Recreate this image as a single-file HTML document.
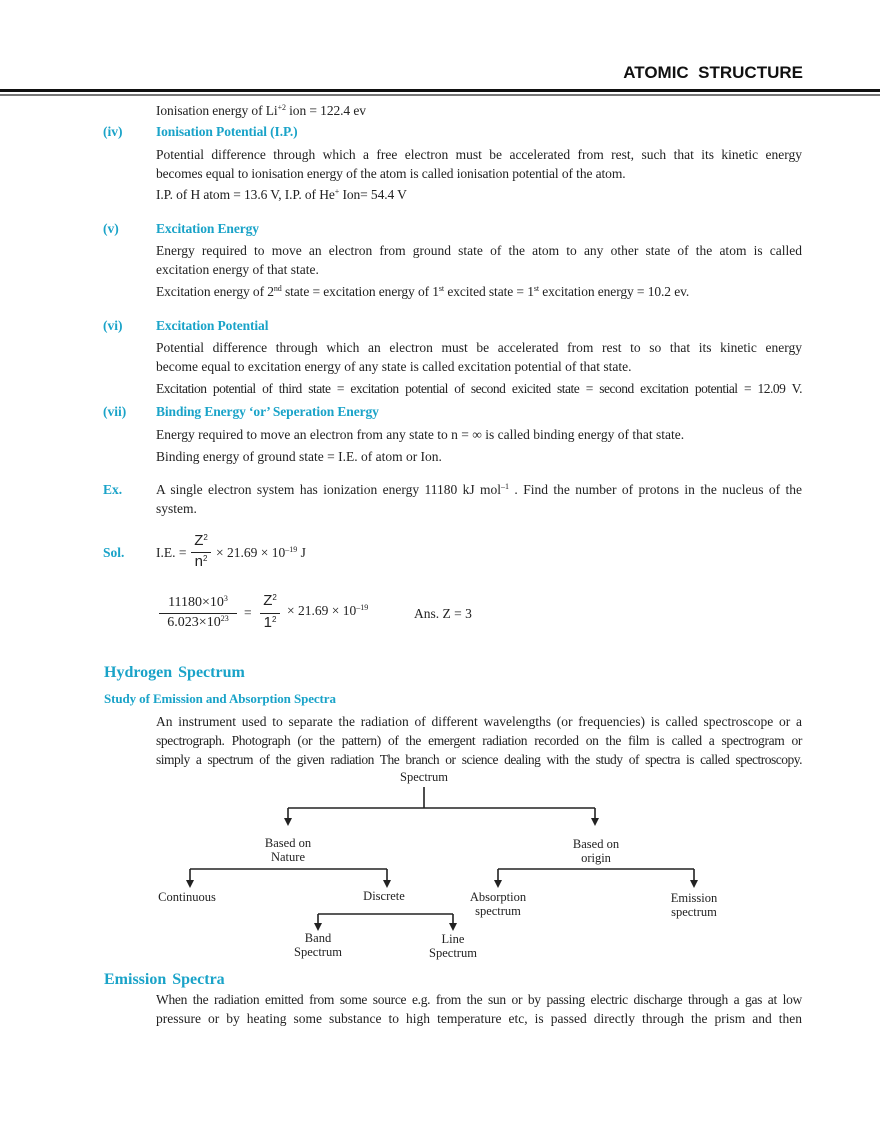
<!DOCTYPE html>
<html><head><meta charset="utf-8"><style>
body{margin:0;background:#fff;}
#p{position:relative;width:880px;height:1139px;font-family:"Liberation Serif",serif;font-size:13.5px;color:#222;overflow:hidden}
.l{position:absolute;white-space:nowrap;line-height:16px}
.j{position:absolute;left:156px;width:646px;line-height:16px;text-align:justify;text-align-last:justify;white-space:nowrap}
.c{color:#1aa3c8;font-weight:bold}
.n{letter-spacing:-0.35px}
.l.n{letter-spacing:-0.1px}
sup{font-size:8px;line-height:0;vertical-align:5px}
.f{position:absolute;text-align:center;line-height:16px}
.sans{font-family:"Liberation Sans",sans-serif}
.d{position:absolute;font-size:12.5px;line-height:14px;text-align:center;transform:translateX(-50%);white-space:nowrap}
</style></head><body><div id="p">
<div class="l sans" style="right:77px;top:65px;font-size:17px;font-weight:bold;color:#111">ATOMIC&nbsp; STRUCTURE</div>
<div style="position:absolute;left:0;top:89px;width:880px;height:3px;background:#111"></div>
<div style="position:absolute;left:0;top:94px;width:880px;height:2px;background:#777"></div>

<div class="l n" style="left:156px;top:103px">Ionisation energy of Li<sup>+2</sup> ion = 122.4 ev</div>
<div class="l c" style="left:103px;top:124px">(iv)</div>
<div class="l c n" style="left:156px;top:124px">Ionisation Potential (I.P.)</div>
<div class="j" style="top:147px">Potential difference through which a free electron must be accelerated from rest, such that its kinetic energy</div>
<div class="l n" style="left:156px;top:166px">becomes equal to ionisation energy of the atom is called ionisation potential of the atom.</div>
<div class="l n" style="left:156px;top:187px">I.P. of H atom = 13.6 V, I.P. of He<sup>+</sup> Ion= 54.4 V</div>

<div class="l c" style="left:103px;top:221px">(v)</div>
<div class="l c n" style="left:156px;top:221px">Excitation Energy</div>
<div class="j" style="top:243px">Energy required to move an electron from ground state of the atom to any other state of the atom is called</div>
<div class="l" style="left:156px;top:262px">excitation energy of that state.</div>
<div class="l n" style="left:156px;top:284px">Excitation energy of 2<sup>nd</sup> state = excitation energy of 1<sup>st</sup> excited state = 1<sup>st</sup> excitation energy = 10.2 ev.</div>

<div class="l c" style="left:103px;top:318px">(vi)</div>
<div class="l c n" style="left:156px;top:318px">Excitation Potential</div>
<div class="j" style="top:340px">Potential difference through which an electron must be accelerated from rest to so that its kinetic energy</div>
<div class="l" style="left:156px;top:359px">become equal to excitation energy of any state is called excitation potential of that state.</div>
<div class="j n" style="top:381px;letter-spacing:-0.5px">Excitation potential of third state = excitation potential of second exicited state = second excitation potential = 12.09 V.</div>
<div class="l c" style="left:103px;top:404px">(vii)</div>
<div class="l c n" style="left:156px;top:404px">Binding Energy ‘or’ Seperation Energy</div>
<div class="l" style="left:156px;top:427px">Energy required to move an electron from any state to n = ∞ is called binding energy of that state.</div>
<div class="l" style="left:156px;top:449px">Binding energy of ground state = I.E. of atom or Ion.</div>

<div class="l c" style="left:103px;top:482px">Ex.</div>
<div class="j" style="top:482px">A single electron system has ionization energy 11180 kJ mol<sup>–1</sup> . Find the number of protons in the nucleus of the</div>
<div class="l" style="left:156px;top:501px">system.</div>

<div class="l c" style="left:103px;top:545px">Sol.</div>
<div class="l" style="left:156px;top:545px">I.E. =</div>
<div class="f sans" style="left:190px;top:533px;width:22px;font-size:15px">Z<sup>2</sup></div>
<div style="position:absolute;left:191px;top:552px;width:20px;height:1px;background:#222"></div>
<div class="f sans" style="left:190px;top:554px;width:22px;font-size:15px">n<sup>2</sup></div>
<div class="l" style="left:216px;top:545px">× 21.69 × 10<sup>–19</sup> J</div>

<div class="f" style="left:158px;top:595px;width:80px;font-size:14px">11180×10<sup>3</sup></div>
<div style="position:absolute;left:159px;top:613px;width:78px;height:1px;background:#222"></div>
<div class="f" style="left:158px;top:615px;width:80px;font-size:14px">6.023×10<sup>23</sup></div>
<div class="l" style="left:244px;top:605px">=</div>
<div class="f sans" style="left:259px;top:593px;width:22px;font-size:15px">Z<sup>2</sup></div>
<div style="position:absolute;left:260px;top:613px;width:20px;height:1px;background:#222"></div>
<div class="f sans" style="left:259px;top:615px;width:22px;font-size:15px">1<sup>2</sup></div>
<div class="l" style="left:287px;top:603px">× 21.69 × 10<sup>–19</sup></div>
<div class="l" style="left:414px;top:606px">Ans. Z = 3</div>

<div class="l c" style="left:104px;top:665px;font-size:16px;word-spacing:2px">Hydrogen Spectrum</div>
<div class="l c n" style="left:104px;top:691px;font-size:13px">Study of Emission and Absorption Spectra</div>
<div class="j" style="top:714px">An instrument used to separate the radiation of different wavelengths (or frequencies) is called spectroscope or a</div>
<div class="j n" style="top:733px">spectrograph. Photograph (or the pattern) of the emergent radiation recorded on the film is called a spectrogram or</div>
<div class="j n" style="top:752px;letter-spacing:-0.5px">simply a spectrum of the given radiation The branch or science dealing with the study of spectra is called spectroscopy.</div>

<svg style="position:absolute;left:0;top:0" width="880" height="1139">
<g stroke="#222" stroke-width="1.6" fill="none">
<path d="M424 787V808M288 808H595M288 808V820M595 808V820"/>
<path d="M190 869H387M190 869V882M387 869V882"/>
<path d="M498 869H694M498 869V882M694 869V882"/>
<path d="M318 914H453M318 914V925M453 914V925"/>
</g>
<g fill="#222">
<path d="M284 818L292 818L288 826Z"/><path d="M591 818L599 818L595 826Z"/>
<path d="M186 880L194 880L190 888Z"/><path d="M383 880L391 880L387 888Z"/>
<path d="M494 880L502 880L498 888Z"/><path d="M690 880L698 880L694 888Z"/>
<path d="M314 923L322 923L318 931Z"/><path d="M449 923L457 923L453 931Z"/>
</g></svg>
<div class="d" style="left:424px;top:770px">Spectrum</div>
<div class="d" style="left:288px;top:836px">Based on<br>Nature</div>
<div class="d" style="left:596px;top:837px">Based on<br>origin</div>
<div class="d" style="left:187px;top:890px">Continuous</div>
<div class="d" style="left:384px;top:889px">Discrete</div>
<div class="d" style="left:498px;top:890px">Absorption<br>spectrum</div>
<div class="d" style="left:694px;top:891px">Emission<br>spectrum</div>
<div class="d" style="left:318px;top:931px">Band<br>Spectrum</div>
<div class="d" style="left:453px;top:932px">Line<br>Spectrum</div>

<div class="l c" style="left:104px;top:972px;font-size:16px;word-spacing:2px">Emission Spectra</div>
<div class="j n" style="top:992px;letter-spacing:-0.3px">When the radiation emitted from some source e.g. from the sun or by passing electric discharge through a gas at low</div>
<div class="j" style="top:1011px">pressure or by heating some substance to high temperature etc, is passed directly through the prism and then</div>
</div></body></html>
